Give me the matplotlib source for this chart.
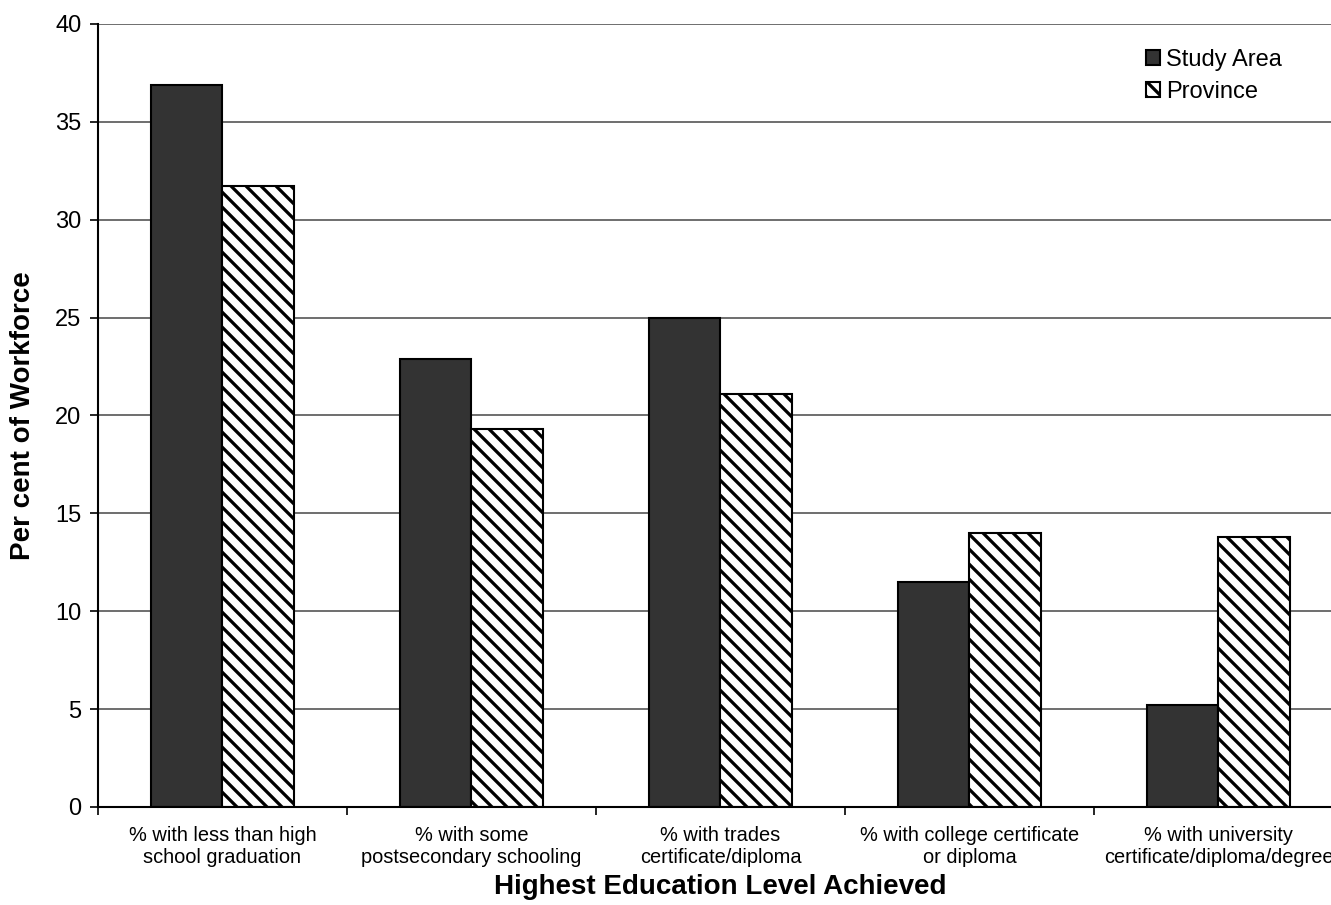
import numpy as np
import matplotlib.pyplot as plt

# Share of workforce by highest education level
categories = ['% with less than high\nschool graduation',
              '% with some\npostsecondary schooling',
              '% with trades\ncertificate/diploma',
              '% with college certificate\nor diploma',
              '% with university\ncertificate/diploma/degree']
study_area = [36.9, 22.9, 25.0, 11.5, 5.2]
province = [31.7, 19.3, 21.1, 14.0, 13.8]

# rendered at 90 dpi so the hatch repeat comes out wider; sizes scaled by k
DPI = 90
k = 100 / DPI

plt.rcParams['font.family'] = ['Liberation Sans', 'DejaVu Sans']
plt.rcParams['hatch.linewidth'] = 2.6

fig = plt.figure(figsize=(1331 / DPI, 905 / DPI), dpi=DPI)
ax = fig.add_axes([0.0736, 0.1083, 1.009 - 0.0736, 0.9735 - 0.1083])

x = np.arange(len(categories))
w = 0.289
ax.bar(x - w / 2, study_area, w, color='#333333', edgecolor='black',
       linewidth=1.5 * k, label='Study Area', zorder=3)
ax.bar(x + w / 2, province, w, color='white', edgecolor='black',
       linewidth=1.5 * k, hatch='\\\\', label='Province', zorder=3)

ax.set_xlim(-0.5, len(categories) - 0.5)
ax.set_ylim(0, 40)
ax.set_yticks(np.arange(0, 41, 5))
ax.yaxis.grid(True, color='#555555', linewidth=1.2 * k, zorder=0)

# category labels centred, ticks at boundaries
ax.set_xticks(x)
ax.set_xticklabels(categories, fontsize=14.4 * k)
ax.tick_params(axis='x', which='major', length=0, pad=14 * k)
ax.set_xticks(np.arange(-0.5, len(categories)), minor=True)
ax.tick_params(axis='x', which='minor', length=6 * k, width=1.2 * k,
               direction='out')
ax.tick_params(axis='y', labelsize=17 * k, length=6 * k, width=1.2 * k,
               pad=6 * k)

for s in ['top', 'right']:
    ax.spines[s].set_visible(False)
for s in ['left', 'bottom']:
    ax.spines[s].set_linewidth(1.5 * k)
    ax.spines[s].set_zorder(4)

ax.set_xlabel('Highest Education Level Achieved', fontsize=20 * k,
              fontweight='bold', labelpad=5 * k)
ax.set_ylabel('Per cent of Workforce', fontsize=20 * k, fontweight='bold',
              labelpad=14 * k)

ax.legend(loc='upper right', bbox_to_anchor=(0.968, 0.995), frameon=False,
          fontsize=17 * k, handlelength=0.6, handleheight=0.6,
          handletextpad=0.25, labelspacing=0.4)

fig.savefig('out.png', dpi=DPI)
